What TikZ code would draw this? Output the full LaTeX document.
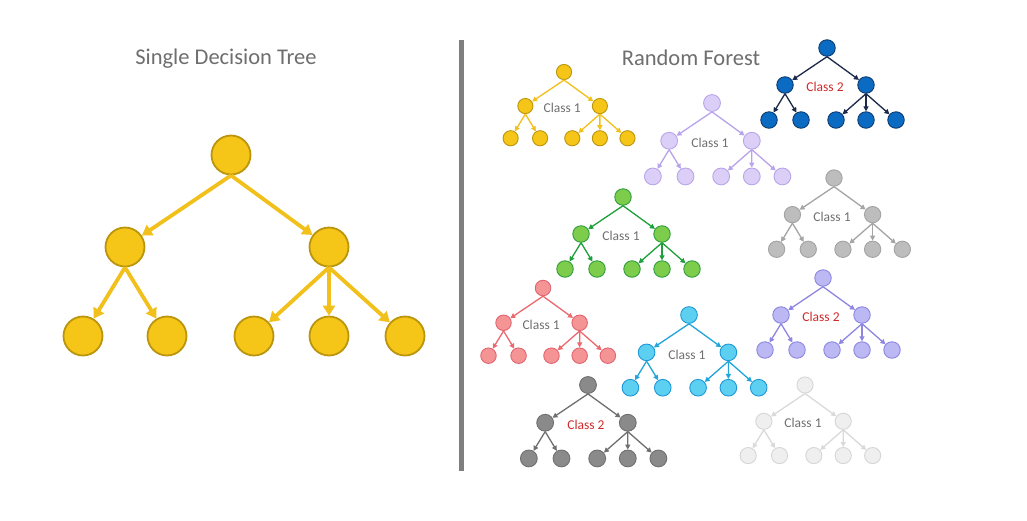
\documentclass[tikz,border=0pt]{standalone}
\usepackage{fontspec}
\setmainfont{Carlito}
\usetikzlibrary{arrows.meta}
\definecolor{ttl}{HTML}{6E6E6E}
\definecolor{lbl}{HTML}{707070}
\definecolor{lblred}{HTML}{D02A2A}
\definecolor{divc}{HTML}{7F7F7F}
\definecolor{yfill}{HTML}{F5C518}
\definecolor{ydraw}{HTML}{BB950C}
\definecolor{yedge}{HTML}{F2C01A}
\definecolor{bfill}{HTML}{DCCFF7}\definecolor{bdraw}{HTML}{B8A5EA}\definecolor{bedge}{HTML}{B9A4EC}
\definecolor{cfill}{HTML}{0B6AC2}\definecolor{cdraw}{HTML}{0B3A70}\definecolor{cedge}{HTML}{1B2A4A}
\definecolor{dfill}{HTML}{7DCC4C}\definecolor{ddraw}{HTML}{2F9E3B}\definecolor{dedge}{HTML}{1FA03C}
\definecolor{efill}{HTML}{BDBDBD}\definecolor{edraw}{HTML}{A3A3A3}\definecolor{eedge}{HTML}{A5A5A5}
\definecolor{ffill}{HTML}{F49494}\definecolor{fdraw}{HTML}{E26470}\definecolor{fedge}{HTML}{EB6A70}
\definecolor{gfill}{HTML}{5DD0F2}\definecolor{gdraw}{HTML}{1E98D4}\definecolor{gedge}{HTML}{21A5DC}
\definecolor{hfill}{HTML}{BBB8F4}\definecolor{hdraw}{HTML}{8D86DF}\definecolor{hedge}{HTML}{8F86E2}
\definecolor{ifill}{HTML}{8A8A8A}\definecolor{idraw}{HTML}{707070}\definecolor{iedge}{HTML}{707070}
\definecolor{jfill}{HTML}{EFEFEF}\definecolor{jdraw}{HTML}{D6D6D6}\definecolor{jedge}{HTML}{DADADA}
\tikzset{
  bignode/.style={circle,minimum size=39pt,inner sep=0pt,line width=1.8pt,fill=yfill,draw=ydraw},
  bigedge/.style={line width=3.8pt,draw=yedge,-{Triangle[length=10pt,width=12pt]}},
  snode/.style={circle,inner sep=0pt,line width=0.9pt},
  sedge/.style={line width=1.3pt,-{Triangle[length=5pt,width=5pt]}},
  slabel/.style={font=\fontsize{13.5}{15}\selectfont},
  title/.style={text=ttl,font=\fontsize{22.5}{26}\selectfont},
}
% #1 name, #2 x, #3 y, #4 scale, #5 fill, #6 border, #7 edge, #8 label, #9 label colour
\newcommand\stree[9]{%
  \begin{scope}[shift={(#2,#3)},scale=#4]
    \tikzset{tn/.style={snode,minimum size={#4*16.5pt},fill=#5,draw=#6}}
    \node[tn] (#1r) at (0,0) {};
    \node[tn] (#1a) at (-42,37) {};
    \node[tn] (#1b) at (39,37) {};
    \node[tn] (#1l1) at (-58,72) {};
    \node[tn] (#1l2) at (-26,72) {};
    \node[tn] (#1l3) at (9,72) {};
    \node[tn] (#1l4) at (39,72) {};
    \node[tn] (#1l5) at (69,72) {};
    \draw[sedge,draw=#7,fill=#7] (#1r.south) -- (#1a);
    \draw[sedge,draw=#7,fill=#7] (#1r.south) -- (#1b);
    \draw[sedge,draw=#7,fill=#7] (#1a.south) -- (#1l1);
    \draw[sedge,draw=#7,fill=#7] (#1a.south) -- (#1l2);
    \draw[sedge,draw=#7,fill=#7] (#1b.south) -- (#1l3);
    \draw[sedge,draw=#7,fill=#7] (#1b.south) -- (#1l4);
    \draw[sedge,draw=#7,fill=#7] (#1b.south) -- (#1l5);
    \node[slabel,text=#9] (#1t) at (-2,39) {#8};
  \end{scope}}
\begin{document}
\begin{tikzpicture}[x=1pt,y=-1pt]
\useasboundingbox[fill=white] (0,0) rectangle (1027,520);
% titles
\node[title] (t1) at (226,59) {Single Decision Tree};
\node[title] (t2) at (691,58) {Random Forest};
% divider
\coordinate (d1) at (461,40);
\coordinate (d2) at (461,471);
\draw[line width=5pt,divc] (d1) -- (d2);
% big tree
\node[bignode] (R) at (231,155) {};
\node[bignode] (A) at (125,247) {};
\node[bignode] (B) at (329,247) {};
\node[bignode] (L1) at (83,336) {};
\node[bignode] (L2) at (167,336) {};
\node[bignode] (L3) at (254,336) {};
\node[bignode] (L4) at (329,336) {};
\node[bignode] (L5) at (405,336) {};
\draw[bigedge] (R.south) -- (A);
\draw[bigedge] (R.south) -- (B);
\draw[bigedge] (A.south) -- (L1);
\draw[bigedge] (A.south) -- (L2);
\draw[bigedge] (B.south) -- (L3);
\draw[bigedge] (B.south) -- (L4);
\draw[bigedge] (B.south) -- (L5);
% forest
\stree{ta}{564}{72}{0.92}{yfill}{ydraw}{yedge}{Class 1}{lbl}
\stree{tb}{712}{103}{1.02}{bfill}{bdraw}{bedge}{Class 1}{lbl}
\stree{tc}{827}{48}{1.0}{cfill}{cdraw}{cedge}{Class 2}{lblred}
\stree{td}{623}{197}{1.0}{dfill}{ddraw}{dedge}{Class 1}{lbl}
\stree{te}{834}{178}{0.99}{efill}{edraw}{eedge}{Class 1}{lbl}
\stree{tf}{543}{288}{0.94}{ffill}{fdraw}{fedge}{Class 1}{lbl}
\stree{tg}{689}{315}{1.01}{gfill}{gdraw}{gedge}{Class 1}{lbl}
\stree{th}{823}{278}{1.0}{hfill}{hdraw}{hedge}{Class 2}{lblred}
\stree{ti}{588}{385}{1.02}{ifill}{idraw}{iedge}{Class 2}{lblred}
\stree{tj}{805}{385}{0.98}{jfill}{jdraw}{jedge}{Class 1}{lbl}
\end{tikzpicture}
\end{document}
